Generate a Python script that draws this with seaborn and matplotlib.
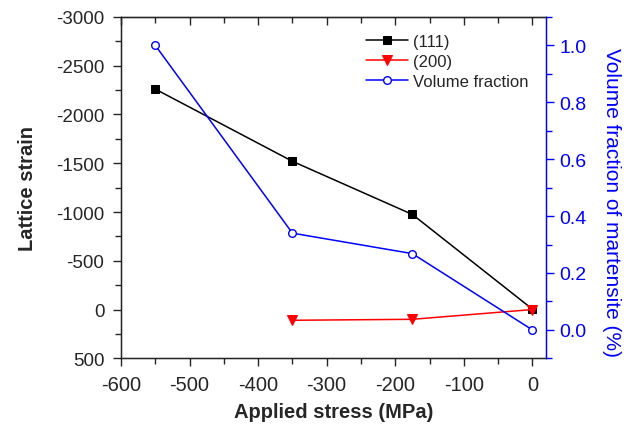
"""
Lattice strain of the (111) and (200) planes and martensite volume
fraction as a function of applied stress.
"""
import numpy as np
import pandas as pd
import seaborn as sns
from matplotlib import pyplot as plt
from matplotlib.ticker import MultipleLocator, FormatStrFormatter

# Data
stress = [-550, -350, -175, 0]
strain_111 = [-2260, -1520, -975, -5]
stress_200 = [-350, -175, 0]
strain_200 = [110, 100, 0]
vol_fraction = [1.0, 0.34, 0.268, 0.0]

df_111 = pd.DataFrame({"stress": stress, "strain": strain_111})
df_200 = pd.DataFrame({"stress": stress_200, "strain": strain_200})
df_vf = pd.DataFrame({"stress": stress, "vf": vol_fraction})

sns.set_style("ticks")
plt.rcParams["font.family"] = ["Liberation Sans", "DejaVu Sans"]
plt.rcParams["axes.unicode_minus"] = False

fig, ax = plt.subplots(
    figsize=(6.32, 4.27),
    dpi=100,
    gridspec_kw=dict(left=0.1915, right=0.864, top=0.958, bottom=0.1585),
)

# Lattice strain series
sns.lineplot(
    data=df_111, x="stress", y="strain", ax=ax, color="black",
    marker="s", markersize=5.3, markeredgecolor="black", lw=1.1, label="(111)",
)
sns.lineplot(
    data=df_200, x="stress", y="strain", ax=ax, color="red",
    marker="v", markersize=6.5, markeredgecolor="red", lw=1.1, label="(200)",
)

ax.set_xlim(-600, 20)
ax.set_ylim(500, -3000)
ax.xaxis.set_major_locator(MultipleLocator(100))
ax.xaxis.set_minor_locator(MultipleLocator(50))
ax.yaxis.set_major_locator(MultipleLocator(500))
ax.yaxis.set_minor_locator(MultipleLocator(250))
ax.tick_params(which="major", length=6, width=1, direction="out")
ax.tick_params(which="minor", length=4, width=1, direction="out")
ax.tick_params(axis="x", which="major", labelsize=14.5, pad=6)
ax.tick_params(axis="y", which="major", labelsize=13.5, pad=6)
for side in ["left", "bottom", "top"]:
    ax.spines[side].set_color("black")
    ax.spines[side].set_linewidth(1)

# Inward ticks on top
top = ax.secondary_xaxis("top")
top.xaxis.set_major_locator(MultipleLocator(100))
top.xaxis.set_minor_locator(MultipleLocator(50))
top.tick_params(which="major", length=6, width=1, direction="in", labeltop=False)
top.tick_params(which="minor", length=4, width=1, direction="in")

# Volume fraction on right axis
ax2 = ax.twinx()
sns.lineplot(
    data=df_vf, x="stress", y="vf", ax=ax2, color="blue", marker="o",
    markersize=5.5, markerfacecolor="white", markeredgecolor="blue",
    markeredgewidth=1, lw=1.1, label="Volume fraction",
)
ax2.set_ylim(-0.1, 1.1)
ax2.yaxis.set_major_locator(MultipleLocator(0.2))
ax2.yaxis.set_minor_locator(MultipleLocator(0.1))
ax2.yaxis.set_major_formatter(FormatStrFormatter("%.1f"))
ax2.tick_params(which="major", length=6, width=1, labelsize=14,
                colors="blue", direction="out", pad=3.5)
ax2.tick_params(which="minor", length=4, width=1, colors="blue", direction="out")
ax2.spines["right"].set_color("blue")
ax2.spines["right"].set_linewidth(1)
ax2.set_ylabel("Volume fraction of martensite (%)", fontsize=15,
               color="blue", rotation=270, va="center", ha="center")
ax2.yaxis.set_label_coords(1.155, 0.46)
ax2.set_xlabel("")

ax.set_xlabel("Applied stress (MPa)", fontsize=14.5, weight="bold", labelpad=6)
ax.set_ylabel("Lattice strain", fontsize=14.5, weight="bold", labelpad=14)

# Combined legend
h1, l1 = ax.get_legend_handles_labels()
h2, l2 = ax2.get_legend_handles_labels()
ax.get_legend().remove()
ax2.get_legend().remove()
ax2.legend(
    h1 + h2, l1 + l2, loc="upper right", bbox_to_anchor=(0.985, 0.985),
    frameon=False, fontsize=12, handlelength=2.5, handletextpad=0.3,
    labelspacing=0.3, borderaxespad=0.3,
)

plt.savefig("out.png", dpi=100)
